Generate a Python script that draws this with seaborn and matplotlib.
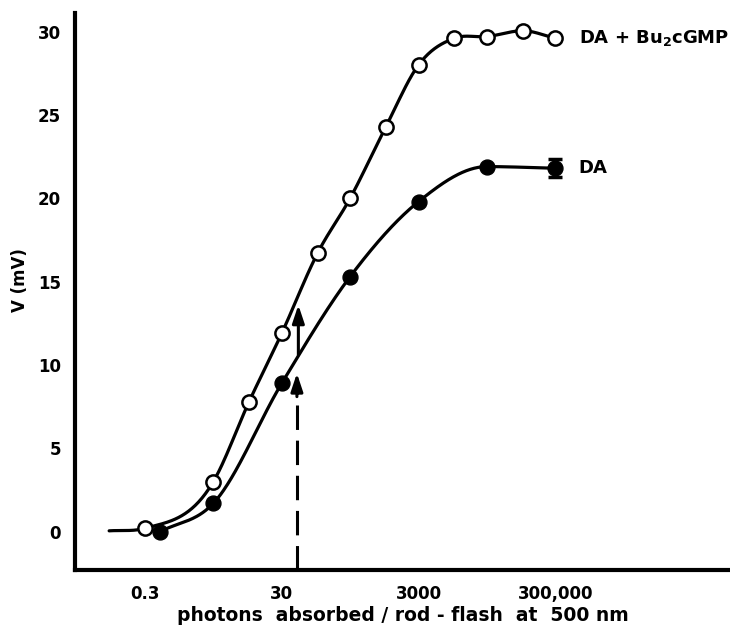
import numpy as np
import pandas as pd
import matplotlib
matplotlib.use("Agg")
import matplotlib.pyplot as plt
import seaborn as sns

# ------------------------------------------------------------
# Datos
# ------------------------------------------------------------
photons_open = [0.3, 3, 10, 30, 100, 300, 1000, 3000, 10000, 30000, 100000, 300000]
v_open = [0.2, 3.0, 7.8, 11.9, 16.7, 20.0, 24.3, 28.0, 29.6, 29.7, 30.05, 29.6]

photons_filled = [0.5, 3, 30, 300, 3000, 30000, 300000]
v_filled = [0.0, 1.7, 8.9, 15.3, 19.8, 21.9, 21.8]
err_last = 0.55

# inicio del trazo a mano (tramo plano a la izquierda)
curve_start_x = 0.09
curve_start_v = 0.05

# flechas
arrow_x = 50
dashed_top = 9.5
solid_bottom = 10.6
solid_top = 13.6

xticks = [0.3, 3, 30, 300, 3000, 30000, 300000]
xtick_labels = ["0.3", "", "30", "", "3000", "", "300,000"]
yticks = [0, 5, 10, 15, 20, 25, 30]

label_open = r"DA + Bu$_{\mathbf{2}}$cGMP"
label_filled = "DA"
label_x = 6.6e5


def suavizar(xs, ys, n=400):
    # curva guía: Hermite cúbica en log-x con tangentes por diferencias
    x = np.log10(xs)
    y = np.asarray(ys, dtype=float)
    h = np.diff(x)
    d = np.diff(y) / h
    m = np.zeros_like(y)
    m[0], m[-1] = d[0], d[-1]
    for k in range(1, len(y) - 1):
        if d[k - 1] * d[k] > 0:
            m[k] = (d[k - 1] * h[k] + d[k] * h[k - 1]) / (h[k - 1] + h[k])
    xq = np.linspace(x[0], x[-1], n)
    idx = np.clip(np.searchsorted(x, xq) - 1, 0, len(x) - 2)
    t = (xq - x[idx]) / h[idx]
    h00 = 2 * t ** 3 - 3 * t ** 2 + 1
    h10 = t ** 3 - 2 * t ** 2 + t
    h01 = -2 * t ** 3 + 3 * t ** 2
    h11 = t ** 3 - t ** 2
    yq = (h00 * y[idx] + h10 * h[idx] * m[idx]
          + h01 * y[idx + 1] + h11 * h[idx] * m[idx + 1])
    return 10 ** xq, yq


sns.set_theme(style="white")
plt.rcParams["font.family"] = ["DejaVu Sans"]
plt.rcParams["font.weight"] = "bold"
plt.rcParams["text.color"] = "black"
plt.rcParams["mathtext.fontset"] = "dejavusans"
plt.rcParams["mathtext.default"] = "bf"

fig = plt.figure(figsize=(7.3, 6.27), dpi=100)
ax = fig.add_axes([0.1027, 0.0909, 0.8973, 0.888])

# curvas suaves
cx_o, cy_o = suavizar([curve_start_x] + photons_open, [curve_start_v] + v_open)
cx_f, cy_f = suavizar(photons_filled, v_filled)
df_o = pd.DataFrame({"x": cx_o, "y": cy_o})
df_f = pd.DataFrame({"x": cx_f, "y": cy_f})
sns.lineplot(data=df_o, x="x", y="y", sort=False, estimator=None,
             color="black", lw=2.3, ax=ax)
sns.lineplot(data=df_f, x="x", y="y", sort=False, estimator=None,
             color="black", lw=2.3, ax=ax)

# puntos
pts_o = pd.DataFrame({"x": photons_open, "y": v_open})
pts_f = pd.DataFrame({"x": photons_filled, "y": v_filled})
sns.scatterplot(data=pts_o, x="x", y="y", marker="o", s=105,
                facecolor="white", edgecolor="black", linewidth=1.8,
                zorder=5, ax=ax)
sns.scatterplot(data=pts_f, x="x", y="y", marker="o", s=115,
                color="black", edgecolor="black", linewidth=1,
                zorder=5, ax=ax)
ax.errorbar(photons_filled[-1], v_filled[-1], yerr=err_last, fmt="none",
            ecolor="black", elinewidth=3, capsize=5, capthick=2.5, zorder=6)

# flechas
ylo = -2.3
ax.plot([arrow_x, arrow_x], [ylo, dashed_top - 1.2], color="black", lw=2.2,
        dashes=(8, 3.5))
ax.annotate("", xy=(arrow_x, dashed_top), xytext=(arrow_x, dashed_top - 1.4),
            arrowprops=dict(arrowstyle="-|>,head_length=0.9,head_width=0.3",
                            color="black", lw=2.2, shrinkA=0, shrinkB=0))
ax.annotate("", xy=(arrow_x * 1.05, solid_top), xytext=(arrow_x * 1.05, solid_bottom),
            arrowprops=dict(arrowstyle="-|>,head_length=0.9,head_width=0.3",
                            color="black", lw=2.2, shrinkA=0, shrinkB=0))

# etiquetas de las curvas
ax.text(label_x, v_open[-1], label_open, fontsize=13, fontweight="bold",
        va="center", ha="left", color="black")
ax.text(label_x, v_filled[-1], label_filled, fontsize=13, fontweight="bold",
        va="center", ha="left", color="black")

ax.set_xscale("log")
ax.set_xlim(0.0285, 1.07e8)
ax.set_ylim(ylo, 31.1)
ax.set_xticks(xticks)
ax.set_xticklabels(xtick_labels)
ax.xaxis.set_minor_locator(matplotlib.ticker.NullLocator())
ax.set_yticks(yticks)

sns.despine(ax=ax)
for s in ["left", "bottom"]:
    ax.spines[s].set_linewidth(3)
    ax.spines[s].set_color("black")

ax.tick_params(axis="both", direction="in", length=9, width=2, color="black",
               labelsize=12, labelcolor="black")
ax.tick_params(axis="x", pad=11)
ax.tick_params(axis="y", pad=10)
for lab in ax.get_xticklabels() + ax.get_yticklabels():
    lab.set_fontweight("bold")

ax.set_xlabel("photons  absorbed / rod - flash  at  500 nm", fontsize=13.5,
              fontweight="bold", labelpad=2, color="black")
ax.set_ylabel("V (mV)", fontsize=12, fontweight="bold", color="black")
ax.yaxis.set_label_coords(-0.07, 0.52)

fig.savefig("out.png", dpi=100)
